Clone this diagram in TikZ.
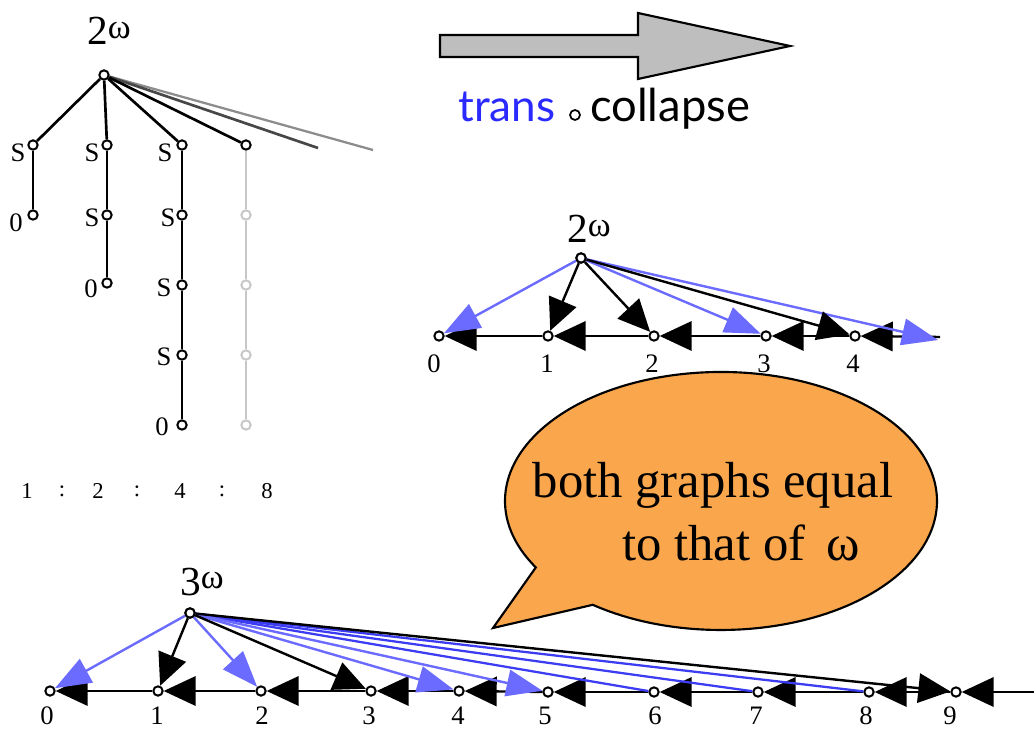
\documentclass[tikz,border=0pt]{standalone}
\usepackage{fontspec}
\setmainfont{Liberation Serif}
\newfontfamily\gillfont{Lato}
\usetikzlibrary{arrows.meta,calc}
\definecolor{lblue}{HTML}{6B6BFF}
\definecolor{dblue}{HTML}{3C3CF2}
\definecolor{tblue}{HTML}{2A2AFF}
\definecolor{bubblefill}{HTML}{F9A64C}
\definecolor{arrowgray}{HTML}{BEBEBE}
\newcommand{\omegasup}{\raisebox{5pt}{\fontsize{26}{26}\selectfont ω}}
\begin{document}
\begin{tikzpicture}[x=0.75pt,y=-0.75pt,
  dot/.style={circle,draw,fill=white,inner sep=0pt,minimum size=7pt,line width=1.5pt},
  gdot/.style={dot,draw=black!22},
  tedge/.style={line width=2pt},
  gedge/.style={line width=1.8pt,draw=black!22},
  slbl/.style={inner sep=0pt,font=\fontsize{20}{20}\selectfont},
  rlbl/.style={inner sep=0pt,font=\fontsize{17}{17}\selectfont},
  nlbl/.style={inner sep=0pt,font=\fontsize{20}{20}\selectfont},
  biglbl/.style={inner sep=0pt,anchor=base west,font=\fontsize{31}{31}\selectfont},
  link/.style={line width=1.8pt,-{Triangle[length=24pt,width=22pt]}},
  blink/.style={line width=1.8pt,draw=lblue,-{Triangle[length=27pt,width=20pt]}},
  klink/.style={link,draw=black},
  dline/.style={line width=1.7pt,draw=dblue},
]
\useasboundingbox (0,0) rectangle (1034,730);

% ---------------- tree (top left) ----------------
\node[biglbl] (troot-l) at (87,45) {2\omegasup};
\node[dot] (t0) at (104,75) {};
\node[dot] (a1) at (33,145) {};
\node[dot] (a2) at (33,215) {};
\node[dot] (b1) at (107,145) {};
\node[dot] (b2) at (107,215) {};
\node[dot] (b3) at (107,283) {};
\node[dot] (c1) at (182,145) {};
\node[dot] (c2) at (182,215) {};
\node[dot] (c3) at (182,285) {};
\node[dot] (c4) at (182,355) {};
\node[dot] (c5) at (182,425) {};
\node[dot] (d1) at (246,145) {};
\node[gdot] (d2) at (246,215) {};
\node[gdot] (d3) at (246,285) {};
\node[gdot] (d4) at (246,355) {};
\node[gdot] (d5) at (246,425) {};
\coordinate (g1) at (318,148);
\coordinate (g2) at (373,150);

\draw[line width=1.7pt,draw=black!45] (t0) -- (g2);
\draw[line width=2pt,draw=black!72] (t0) -- (g1);
\draw[tedge] (t0) -- (a1);
\draw[tedge] (t0) -- (b1);
\draw[tedge] (t0) -- (c1);
\draw[tedge] (t0) -- (d1);
\draw[tedge] (a1) -- (a2);
\draw[tedge] (b1) -- (b2);
\draw[tedge] (b2) -- (b3);
\draw[tedge] (c1) -- (c2);
\draw[tedge] (c2) -- (c3);
\draw[tedge] (c3) -- (c4);
\draw[tedge] (c4) -- (c5);
\draw[gedge] (d1) -- (d2);
\draw[gedge] (d2) -- (d3);
\draw[gedge] (d3) -- (d4);
\draw[gedge] (d4) -- (d5);

\node[slbl] (sa1) at (18,153) {S};
\node[slbl] (sb1) at (92,153) {S};
\node[slbl] (sc1) at (165,153) {S};
\node[slbl] (sb2) at (92,218) {S};
\node[slbl] (sc2) at (168,218) {S};
\node[slbl] (sc3) at (164,288) {S};
\node[slbl] (sc4) at (164,357) {S};
\node[slbl] (za2) at (16,223) {0};
\node[slbl] (zb3) at (91,289) {0};
\node[slbl] (zc5) at (162,427) {0};

\node[rlbl] (r1) at (27,491) {1};
\node[rlbl] (r2) at (62,491) {:};
\node[rlbl] (r3) at (98,491) {2};
\node[rlbl] (r4) at (137,491) {:};
\node[rlbl] (r5) at (180,491) {4};
\node[rlbl] (r6) at (222,491) {:};
\node[rlbl] (r7) at (267,491) {8};

% ---------------- big arrow ----------------
\draw[line width=1.6pt,fill=arrowgray] (440,35) -- (638,35) -- (638,13) -- (790,46) -- (638,79) -- (638,57) -- (440,57) -- cycle;
\node[inner sep=0pt,anchor=base west,font=\gillfont\fontsize{33}{33}\selectfont,text=tblue] (trans) at (458,122) {trans};
\node[circle,draw,line width=1.3pt,inner sep=0pt,minimum size=7.5pt] (comp) at (575,115) {};
\node[inner sep=0pt,anchor=base west,font=\gillfont\fontsize{34}{34}\selectfont] (collapse) at (590,122) {collapse};

% ---------------- middle graph ----------------
\node[biglbl] (mroot-l) at (567,243) {2\omegasup};
\node[dot] (mr) at (581,258) {};
\node[dot] (m0) at (439,336) {};
\node[dot] (m1) at (548,336) {};
\node[dot] (m2) at (654,336) {};
\node[dot] (m3) at (766,336) {};
\node[dot] (m4) at (855,336) {};
\coordinate (mend) at (940,337);
\coordinate (mblue) at (938,340);

\draw[link] (mend) -- (m4);
\draw[link] (m4) -- (m3);
\draw[link] (m3) -- (m2);
\draw[link] (m2) -- (m1);
\draw[link] (m1) -- (m0);

\draw[blink] (mr) -- (m0);
\draw[blink] (mr) -- (m3);
\draw[blink] (mr) -- (mblue);
\draw[klink] (mr) -- (m1);
\draw[klink] (mr) -- (m2);
\draw[klink] (mr) -- (m4);
\node[dot] at (mr) {};

\node[nlbl] (ml0) at (434,364) {0};
\node[nlbl] (ml1) at (547,364) {1};
\node[nlbl] (ml2) at (652,364) {2};
\node[nlbl] (ml3) at (764,364) {3};
\node[nlbl] (ml4) at (853,364) {4};

% ---------------- speech bubble ----------------
\path[draw,fill=bubblefill,line width=1.6pt,line join=miter]
  (592.8,604.8) arc[start angle=126.4,end angle=-211,x radius=216,y radius=129]
  -- (493,628) -- cycle;
\node[inner sep=0pt,anchor=base,font=\fontsize{38}{38}\selectfont] (bub1) at (713,497) {both graphs equal};
\node[inner sep=0pt,anchor=base,font=\fontsize{38}{38}\selectfont] (bub2) at (741,560) {to that of\, ω};

% ---------------- bottom graph ----------------
\node[biglbl] (broot-l) at (180,595) {3\omegasup};
\node[dot] (br) at (190,613) {};
\node[dot] (n0) at (50,691) {};
\node[dot] (n1) at (158,691) {};
\node[dot] (n2) at (261,691) {};
\node[dot] (n3) at (371,691) {};
\node[dot] (n4) at (459,691) {};
\node[dot] (n5) at (548,692) {};
\node[dot] (n6) at (654,692) {};
\node[dot] (n7) at (758,692) {};
\node[dot] (n8) at (869,692) {};
\node[dot] (n9) at (956,692) {};
\coordinate (nend) at (1034,692);

\draw[link] (nend) -- (n9);
\draw[link] (n9) -- (n8);
\draw[link] (n8) -- (n7);
\draw[link] (n7) -- (n6);
\draw[link] (n6) -- (n5);
\draw[link] (n5) -- (n4);
\draw[link] (n4) -- (n3);
\draw[link] (n3) -- (n2);
\draw[link] (n2) -- (n1);
\draw[link] (n1) -- (n0);

\draw[dline] (br) -- (n6);
\draw[dline] (br) -- (n7);
\draw[dline] (br) -- (n8);
\draw[blink] (br) -- (n0);
\draw[blink] (br) -- (n2);
\draw[blink] (br) -- (n4);
\draw[blink] (br) -- (n5);
\draw[klink] (br) -- (n1);
\draw[klink] (br) -- (n3);
\draw[klink] (br) -- (n9);
\node[dot] at (br) {};

\node[nlbl] (bl0) at (47,716) {0};
\node[nlbl] (bl1) at (157,716) {1};
\node[nlbl] (bl2) at (262,716) {2};
\node[nlbl] (bl3) at (369,716) {3};
\node[nlbl] (bl4) at (458,716) {4};
\node[nlbl] (bl5) at (545,716) {5};
\node[nlbl] (bl6) at (655,716) {6};
\node[nlbl] (bl7) at (756,716) {7};
\node[nlbl] (bl8) at (866,716) {8};
\node[nlbl] (bl9) at (950,716) {9};
\end{tikzpicture}
\end{document}
